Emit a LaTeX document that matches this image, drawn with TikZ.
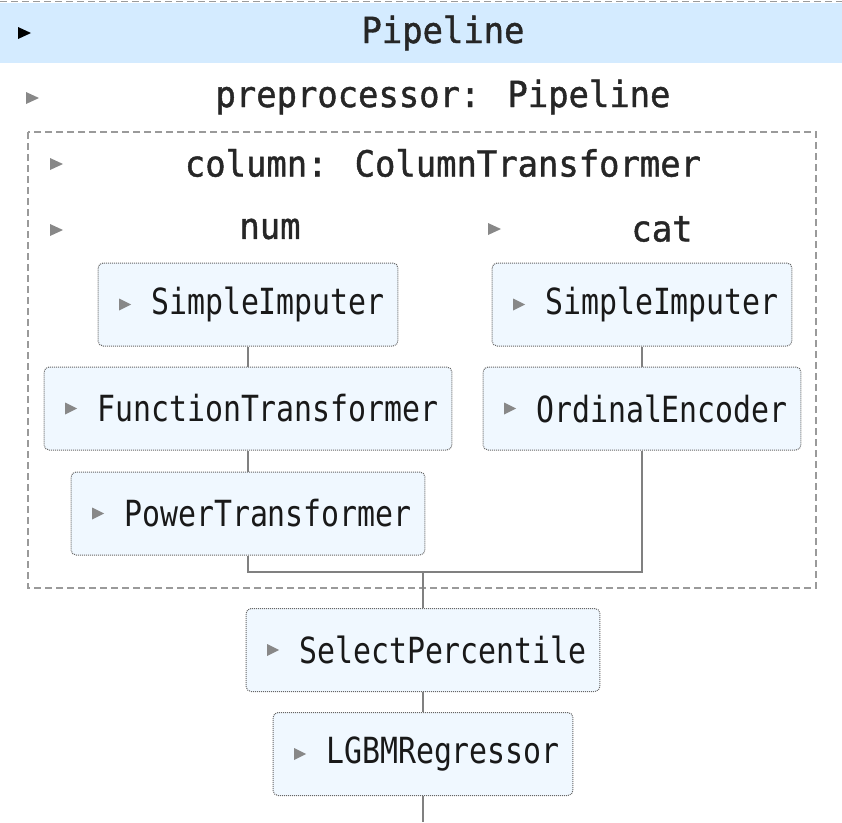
\documentclass[tikz,border=0pt]{standalone}
\usepackage{fontspec}
\newfontfamily\boxfont[FakeStretch=0.83]{DejaVu Sans Mono}
\newfontfamily\labelfont[FakeStretch=0.94, FakeBold=1.2]{DejaVu Sans Mono}
\usetikzlibrary{positioning}

\definecolor{skband}{HTML}{D4EBFF}
\definecolor{skfill}{HTML}{F0F8FF}
\definecolor{skline}{HTML}{9A9A9A}
\definecolor{sktri}{HTML}{888888}

\tikzset{
  pics/tri/.style={code={\fill[#1, sharp corners] (0,-6) -- (13,0) -- (0,6) -- cycle;}},
  estimator/.style={draw=black!60, densely dotted, line width=1pt, rounded corners=5pt,
    fill=skfill, minimum height=83pt, inner xsep=13pt, text=black!90,
    font=\boxfont\fontsize{36}{40}\selectfont,
    execute at begin node={\hspace*{40pt}},
    path picture={\fill[sktri, sharp corners] ([xshift=21pt]path picture bounding box.west)
      ++(0,-6) -- ++(12,6) -- ++(-12,6) -- cycle;}},
  caption/.style={font=\labelfont\fontsize{36}{40}\selectfont, text=black!85, inner sep=0pt},
  groupbox/.style={draw=skline, dash pattern=on 7pt off 4pt, line width=1.5pt},
  link/.style={draw=black!50, line width=2pt}
}

\begin{document}
\begin{tikzpicture}[x=1pt, y=-1pt]
	\useasboundingbox (0,0) rectangle (842,822);
	
	% outer pipeline
	\fill[skband] (0,3) rectangle (842,63);
	\draw[groupbox] (0,1.5) -- (842,1.5);
	\pic at (18,33) {tri=black};
	\node[caption] (pipe) at (443,33) {Pipeline};
	
	\pic at (26,98) {tri=sktri};
	\node[caption] (prep) at (443,97) {preprocessor: Pipeline};
	
	% column transformer
	\draw[groupbox] (28,132) rectangle (816,588);
	\pic at (50,164) {tri=sktri};
	\node[caption] (coltr) at (443,163) {column: ColumnTransformer};
	\pic at (50,230) {tri=sktri};
	\node[caption] (num) at (270,229) {num};
	\pic at (488,229) {tri=sktri};
	\node[caption] (cat) at (662,229) {cat};
	
	\node[estimator] (imp_num) at (248,304.5) {SimpleImputer};
	\node[estimator, below=20pt of imp_num] (func) {FunctionTransformer};
	\node[estimator, below=21pt of func] (power) {PowerTransformer};
	\node[estimator] (imp_cat) at (642,304.5) {SimpleImputer};
	\node[estimator, below=20pt of imp_cat] (ord) {OrdinalEncoder};
	\coordinate (merge) at (423,572);
	
	% final steps
	\node[estimator] (select) at (423,650) {SelectPercentile};
	\node[estimator, below=20pt of select] (lgbm) {LGBMRegressor};
	\coordinate (out) at (423,822);
	
	\draw[link] (imp_num) -- (func);
	\draw[link] (func) -- (power);
	\draw[link] (imp_cat) -- (ord);
	\draw[link] (power) |- (merge) -| (ord);
	\draw[link] (merge) -- (select);
	\draw[link] (select) -- (lgbm);
	\draw[link] (lgbm) -- (out);
\end{tikzpicture}
\end{document}
